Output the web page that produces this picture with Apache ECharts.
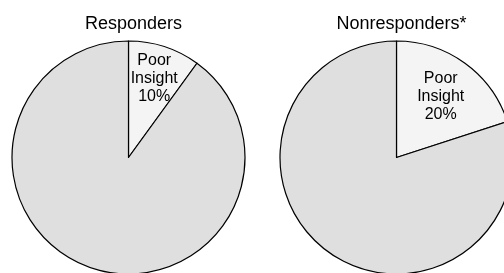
<!DOCTYPE html>
<html lang="en">
<head>
    <meta charset="UTF-8">
    <title>Insight pies</title>
    <script src="https://cdn.jsdelivr.net/npm/echarts/dist/echarts.min.js"></script>
    <style>
        body { margin: 0; background: #fff; }
        #chart { width: 504px; height: 273px; }
    </style>
</head>
<body>
    <div id="chart"></div>
    <script type="text/javascript">
        // data
        var groups = ['Responders', 'Nonresponders*'];
        var sliceNames = ['Poor Insight', 'Other'];
        var responders = [10, 90];
        var nonresponders = [20, 80];

        var font = '"Liberation Sans", Arial, sans-serif';
        var colors = ['#f4f4f4', '#dfdfdf'];
        var centers = [[128.5, 157.5], [396.5, 157.5]];
        var labelInner = [44, 28]; // inner radius of the label ring, puts the text where it sits

        function toData(values) {
            return values.map(function (v, i) {
                return { name: sliceNames[i], value: v, itemStyle: { color: colors[i] } };
            });
        }

        var allValues = [responders, nonresponders];
        var series = [];
        allValues.forEach(function (vals, k) {
            // the pie itself
            series.push({
                type: 'pie',
                center: centers[k],
                radius: [0, 116.5],
                startAngle: 90,
                clockwise: true,
                silent: true,
                animation: false,
                data: toData(vals),
                itemStyle: { borderColor: '#000', borderWidth: 1.2 },
                label: { show: false },
                labelLine: { show: false }
            });
            // transparent ring only for the label text
            series.push({
                type: 'pie',
                center: centers[k],
                radius: [labelInner[k], 116.5],
                startAngle: 90,
                clockwise: true,
                silent: true,
                animation: false,
                data: vals.map(function (v, i) {
                    return { name: sliceNames[i], value: v, label: { show: i === 0 } };
                }),
                itemStyle: { color: 'rgba(0,0,0,0)', borderWidth: 0 },
                label: {
                    position: 'inside',
                    color: '#000',
                    fontSize: 16,
                    lineHeight: 18,
                    fontFamily: font,
                    formatter: function (p) {
                        return p.name.replace(' ', '\n') + '\n' + p.value + '%';
                    }
                },
                labelLine: { show: false }
            });
        });

        var chart = echarts.init(document.getElementById('chart'));
        chart.setOption({
            animation: false,
            title: groups.map(function (g, k) {
                return {
                    text: g,
                    left: centers[k][0],
                    top: 10,
                    textAlign: 'center',
                    textStyle: { fontSize: 18, fontWeight: 'normal', color: '#000', fontFamily: font }
                };
            }),
            series: series
        });
    </script>
</body>
</html>
